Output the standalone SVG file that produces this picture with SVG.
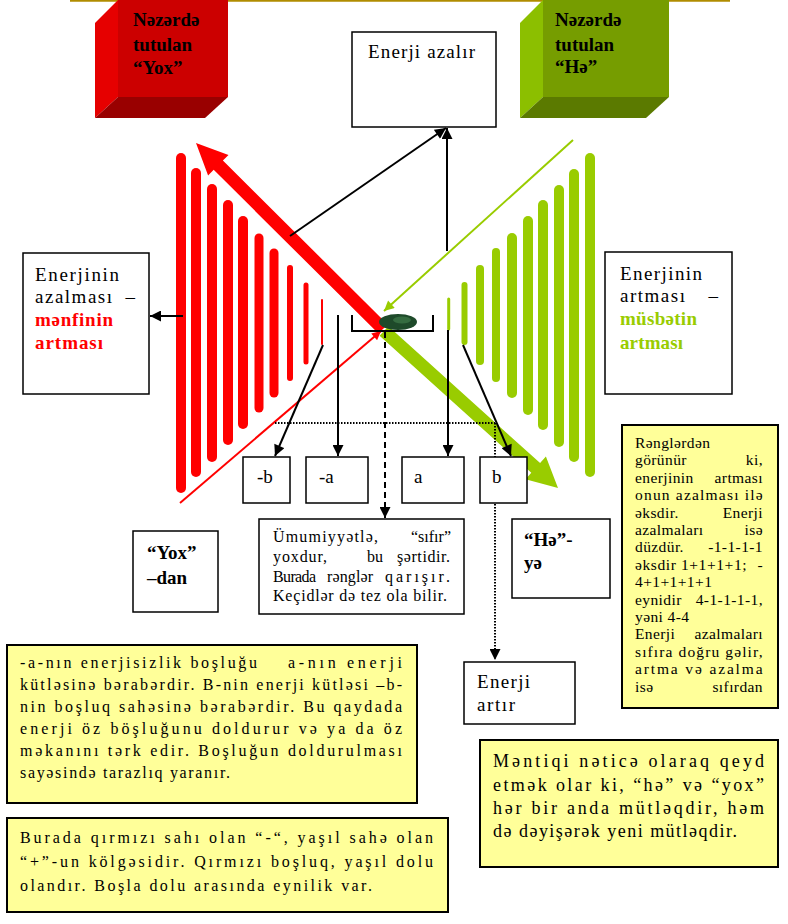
<svg xmlns="http://www.w3.org/2000/svg" width="788" height="924" viewBox="0 0 788 924" font-family="'Liberation Serif', Tinos, 'Times New Roman', 'DejaVu Serif', serif">
<style>
.t{font-family:"Liberation Serif",Tinos,"Times New Roman","DejaVu Serif",serif;fill:#000}
.b{font-weight:bold}
.s19{font-size:19px}
.s16{font-size:16px}
.s15{font-size:15.5px;letter-spacing:0.4px}
.s18{font-size:18px}
.box{fill:#fff;stroke:#000;stroke-width:1.5}
.ybox{fill:#ffff99;stroke:#000;stroke-width:2}
.rb{stroke:#ff0000;stroke-linecap:round;fill:none}
.gb{stroke:#99cc00;stroke-linecap:round;fill:none}
.con{stroke:#000;stroke-width:2;fill:none}
</style>
<defs>
<marker id="ah" viewBox="0 0 10 10" refX="10" refY="5" markerWidth="12" markerHeight="11" markerUnits="userSpaceOnUse" orient="auto"><path d="M0,0 L10,5 L0,10 z" fill="#000"/></marker>
<marker id="ahr" viewBox="0 0 10 10" refX="10" refY="5" markerWidth="10" markerHeight="9" markerUnits="userSpaceOnUse" orient="auto"><path d="M0,0 L10,5 L0,10 z" fill="#ff0000"/></marker>
<marker id="ahg" viewBox="0 0 10 10" refX="10" refY="5" markerWidth="12" markerHeight="10" markerUnits="userSpaceOnUse" orient="auto"><path d="M0,0 L10,5 L0,10 z" fill="#99cc00"/></marker>
</defs>
<rect width="788" height="924" fill="#fff"/>
<line x1="70" y1="0.8" x2="730" y2="0.8" stroke="#b08c00" stroke-width="2"/>

<g id="yox-cube">
<polygon points="95,23 118,0 118,97 95,118" fill="#e60000"/>
<rect x="118" y="0" width="110" height="97" fill="#cc0000"/>
<polygon points="118,97 228,97 205,118 95,118" fill="#990000"/>
<text class="t b s19" x="133" y="26">Nəzərdə</text>
<text class="t b s19" x="133" y="51">tutulan</text>
<text class="t b s19" x="133" y="74">“Yox”</text>
</g>
<g id="he-cube">
<polygon points="520,23 543,0 543,97 520,118" fill="#8cbf00"/>
<rect x="543" y="0" width="126" height="97" fill="#769d00"/>
<polygon points="543,97 669,97 646,118 520,118" fill="#5b7a00"/>
<text class="t b s19" x="555" y="26">Nəzərdə</text>
<text class="t b s19" x="555" y="51">tutulan</text>
<text class="t b s19" x="555" y="73">“Hə”</text>
</g>

<g id="red-bars">
<line class="rb" x1="181" y1="158" x2="181" y2="488" stroke-width="10"/>
<line class="rb" x1="196" y1="173" x2="196" y2="472" stroke-width="10"/>
<line class="rb" x1="212" y1="189" x2="212" y2="457" stroke-width="10"/>
<line class="rb" x1="228" y1="205" x2="228" y2="440" stroke-width="10"/>
<line class="rb" x1="243" y1="221" x2="243" y2="424" stroke-width="10"/>
<line class="rb" x1="259" y1="238" x2="259" y2="408" stroke-width="9"/>
<line class="rb" x1="274" y1="253" x2="274" y2="393" stroke-width="9"/>
<line class="rb" x1="290" y1="268" x2="290" y2="378" stroke-width="6"/>
<line class="rb" x1="306" y1="285" x2="306" y2="362" stroke-width="5"/>
<line class="rb" x1="322" y1="300" x2="322" y2="344" stroke-width="2"/>
</g>
<g id="green-bars">
<line class="gb" x1="590" y1="158" x2="590" y2="472" stroke-width="10"/>
<line class="gb" x1="574" y1="174" x2="574" y2="457" stroke-width="10"/>
<line class="gb" x1="559" y1="190" x2="559" y2="442" stroke-width="10"/>
<line class="gb" x1="543" y1="205" x2="543" y2="425" stroke-width="10"/>
<line class="gb" x1="528" y1="221" x2="528" y2="410" stroke-width="10"/>
<line class="gb" x1="512" y1="238" x2="512" y2="393" stroke-width="10"/>
<line class="gb" x1="496" y1="252" x2="496" y2="378" stroke-width="8"/>
<line class="gb" x1="480" y1="269" x2="480" y2="361" stroke-width="8"/>
<line class="gb" x1="464.5" y1="285" x2="464.5" y2="342" stroke-width="6"/>
<line class="gb" x1="448.7" y1="299" x2="448.7" y2="329" stroke-width="3"/>
</g>

<g id="connectors">
<line x1="180" y1="503" x2="381" y2="331" stroke="#ff0000" stroke-width="2" marker-end="url(#ahr)"/>
<line x1="573" y1="140" x2="384" y2="311" stroke="#99cc00" stroke-width="2" marker-end="url(#ahg)"/>
<polygon points="196,143 228.5,154.9 222.9,160.6 387.6,324.4 378.4,333.6 213.7,169.8 208.1,175.5" fill="#ff0000"/>
<polygon points="558,488 525.5,479.2 531.3,472.7 379.6,335.8 388.4,326.2 540.1,463.1 545.9,456.6" fill="#99cc00"/>
<line class="con" x1="290" y1="236" x2="446" y2="128" marker-end="url(#ah)"/>
<line class="con" x1="447" y1="251" x2="447" y2="128" marker-end="url(#ah)"/>
<line class="con" x1="183" y1="316" x2="150" y2="316" marker-end="url(#ah)"/>
<line class="con" x1="323" y1="345" x2="275" y2="456" marker-end="url(#ah)"/>
<line class="con" x1="338" y1="315" x2="338" y2="456" marker-end="url(#ah)"/>
<line class="con" x1="448" y1="330" x2="448" y2="456" marker-end="url(#ah)"/>
<line class="con" x1="463" y1="345" x2="511" y2="456" marker-end="url(#ah)"/>
<line class="con" x1="385" y1="332" x2="385" y2="518" stroke-dasharray="6 4" marker-end="url(#ah)"/>
<path class="con" d="M275,423 H495" stroke-dasharray="1.5 1.5"/>
<path class="con" d="M495,423 V660" stroke-dasharray="1.5 1.5" marker-end="url(#ah)"/>
<path class="con" d="M352,315 V331 H433 V315" stroke-width="1.5"/>
</g>

<g id="stone">
<ellipse cx="398" cy="322" rx="19" ry="8" fill="#1e4a2a"/>
<ellipse cx="402" cy="320" rx="9" ry="3.5" fill="#3f7a4a" opacity="0.7"/>
</g>

<g id="energy-decreases">
<rect class="box" x="352" y="32" width="144" height="95"/>
<text class="t s19" x="368" y="58" textLength="107" lengthAdjust="spacing">Enerji azalır</text>
</g>

<g id="left-box">
<rect class="box" x="23" y="253" width="126" height="141"/>
<text class="t s19" x="35" y="281" textLength="84" lengthAdjust="spacing">Enerjinin</text>
<text class="t s19" x="35" y="303" textLength="77" lengthAdjust="spacing">azalması</text>
<text class="t s19" x="135" y="303" text-anchor="end">–</text>
<text class="t b s19" x="35" y="326" textLength="78" lengthAdjust="spacing" style="fill:#ff0000">mənfinin</text>
<text class="t b s19" x="35" y="349" textLength="68" lengthAdjust="spacing" style="fill:#ff0000">artması</text>
</g>
<g id="right-box">
<rect class="box" x="605" y="252" width="127" height="142"/>
<text class="t s19" x="620" y="280" textLength="82" lengthAdjust="spacing">Enerjinin</text>
<text class="t s19" x="620" y="302" textLength="65" lengthAdjust="spacing">artması</text>
<text class="t s19" x="718" y="302" text-anchor="end">–</text>
<text class="t b s19" x="620" y="325" textLength="77" lengthAdjust="spacing" style="fill:#99cc00">müsbətin</text>
<text class="t b s19" x="620" y="349" textLength="63" lengthAdjust="spacing" style="fill:#99cc00">artması</text>
</g>

<g id="box-mb"><rect class="box" x="243" y="457" width="47" height="46"/><text class="t s19" x="257" y="483">-b</text></g>
<g id="box-ma"><rect class="box" x="306" y="457" width="62" height="46"/><text class="t s19" x="319" y="483">-a</text></g>
<g id="box-a"><rect class="box" x="402" y="457" width="62" height="46"/><text class="t s19" x="414" y="483">a</text></g>
<g id="box-b"><rect class="box" x="480" y="457" width="47" height="46"/><text class="t s19" x="492" y="483">b</text></g>

<g id="zero-box">
<rect class="box" x="259" y="519" width="205" height="95"/>
<text class="t s16" x="273" y="542" textLength="105" lengthAdjust="spacing">Ümumiyyətlə,</text>
<text class="t s16" x="451" y="542" text-anchor="end">“sıfır”</text>
<text class="t s16" x="273" y="562" textLength="54" lengthAdjust="spacing">yoxdur,</text>
<text class="t s16" x="367" y="562">bu</text>
<text class="t s16" x="397" y="562" textLength="53" lengthAdjust="spacing">şərtidir.</text>
<text class="t s16" x="273" y="582" textLength="43" lengthAdjust="spacing">Burada</text>
<text class="t s16" x="327" y="582" textLength="46" lengthAdjust="spacing">rənglər</text>
<text class="t s16" x="385" y="582" textLength="65" lengthAdjust="spacing">qarışır.</text>
<text class="t s16" x="273" y="601" textLength="174" lengthAdjust="spacing">Keçidlər də tez ola bilir.</text>
</g>

<g id="yox-dan">
<rect class="box" x="133" y="531" width="85" height="81"/>
<text class="t b s19" x="147" y="559">“Yox”</text>
<text class="t b s19" x="147" y="584">–dan</text>
</g>
<g id="he-ye">
<rect class="box" x="512" y="519" width="98" height="79"/>
<text class="t b s19" x="524" y="546">“Hə”-</text>
<text class="t b s19" x="524" y="569">yə</text>
</g>

<g id="energy-increases">
<rect class="box" x="464" y="662" width="111" height="62"/>
<text class="t s19" x="477" y="688" textLength="53" lengthAdjust="spacing">Enerji</text>
<text class="t s19" x="477" y="711" textLength="38" lengthAdjust="spacing">artır</text>
</g>

<g id="colors-note">
<rect class="ybox" x="622" y="425" width="156" height="283"/>
<text class="t s15" x="635" y="448">Rənglərdən</text>
<text class="t s15" x="635" y="465.4">görünür</text><text class="t s15" x="763" y="465.4" text-anchor="end">ki,</text>
<text class="t s15" x="635" y="482.8">enerjinin</text><text class="t s15" x="763" y="482.8" text-anchor="end">artması</text>
<text class="t s15" x="635" y="500.2" textLength="128" lengthAdjust="spacing">onun azalması ilə</text>
<text class="t s15" x="635" y="517.6">əksdir.</text><text class="t s15" x="763" y="517.6" text-anchor="end">Enerji</text>
<text class="t s15" x="635" y="535">azalmaları</text><text class="t s15" x="763" y="535" text-anchor="end">isə</text>
<text class="t s15" x="635" y="552.4">düzdür.</text><text class="t s15" x="763" y="552.4" text-anchor="end">-1-1-1-1</text>
<text class="t s15" x="635" y="569.8" textLength="112" lengthAdjust="spacing">əksdir 1+1+1+1;</text><text class="t s15" x="763" y="569.8" text-anchor="end">-</text>
<text class="t s15" x="635" y="587.2">4+1+1+1+1</text>
<text class="t s15" x="635" y="604.6">eynidir</text><text class="t s15" x="763" y="604.6" text-anchor="end">4-1-1-1-1,</text>
<text class="t s15" x="635" y="622">yəni 4-4</text>
<text class="t s15" x="635" y="639.4">Enerji</text><text class="t s15" x="763" y="639.4" text-anchor="end">azalmaları</text>
<text class="t s15" x="635" y="656.8" textLength="128" lengthAdjust="spacing">sıfıra doğru gəlir,</text>
<text class="t s15" x="635" y="674.2" textLength="128" lengthAdjust="spacing">artma və azalma</text>
<text class="t s15" x="635" y="691.6">isə</text><text class="t s15" x="763" y="691.6" text-anchor="end">sıfırdan</text>
</g>

<g id="void-note">
<rect class="ybox" x="7" y="645" width="410" height="158"/>
<text class="t s16" x="20" y="668" textLength="237" lengthAdjust="spacing">-a-nın enerjisizlik boşluğu</text>
<text class="t s16" x="288" y="668" textLength="114" lengthAdjust="spacing">a-nın enerji</text>
<text class="t s16" x="20" y="690" textLength="382" lengthAdjust="spacing">kütləsinə bərabərdir. B-nin enerji kütləsi –b-</text>
<text class="t s16" x="20" y="712" textLength="382" lengthAdjust="spacing">nin boşluq sahəsinə bərabərdir. Bu qaydada</text>
<text class="t s16" x="20" y="734" textLength="382" lengthAdjust="spacing">enerji öz böşluğunu doldurur və ya da öz</text>
<text class="t s16" x="20" y="756" textLength="382" lengthAdjust="spacing">məkanını tərk edir. Boşluğun doldurulması</text>
<text class="t s16" x="20" y="778" textLength="210" lengthAdjust="spacing">sayəsində tarazlıq yaranır.</text>
</g>

<g id="shadow-note">
<rect class="ybox" x="7" y="818" width="441" height="94"/>
<text class="t s16" x="20" y="843" textLength="413" lengthAdjust="spacing">Burada qırmızı sahı olan “-“, yaşıl sahə olan</text>
<text class="t s16" x="20" y="867" textLength="413" lengthAdjust="spacing">“+”-un kölgəsidir. Qırmızı boşluq, yaşıl dolu</text>
<text class="t s16" x="20" y="891" textLength="352" lengthAdjust="spacing">olandır. Boşla dolu arasında eynilik var.</text>
</g>

<g id="logic-note">
<rect class="ybox" x="480" y="740" width="298" height="127"/>
<text class="t s18" x="493" y="767" textLength="271" lengthAdjust="spacing">Məntiqi nəticə olaraq qeyd</text>
<text class="t s18" x="493" y="791" textLength="271" lengthAdjust="spacing">etmək olar ki, “hə” və “yox”</text>
<text class="t s18" x="493" y="814" textLength="271" lengthAdjust="spacing">hər bir anda mütləqdir, həm</text>
<text class="t s18" x="493" y="837" textLength="244" lengthAdjust="spacing">də dəyişərək yeni mütləqdir.</text>
</g>
</svg>
